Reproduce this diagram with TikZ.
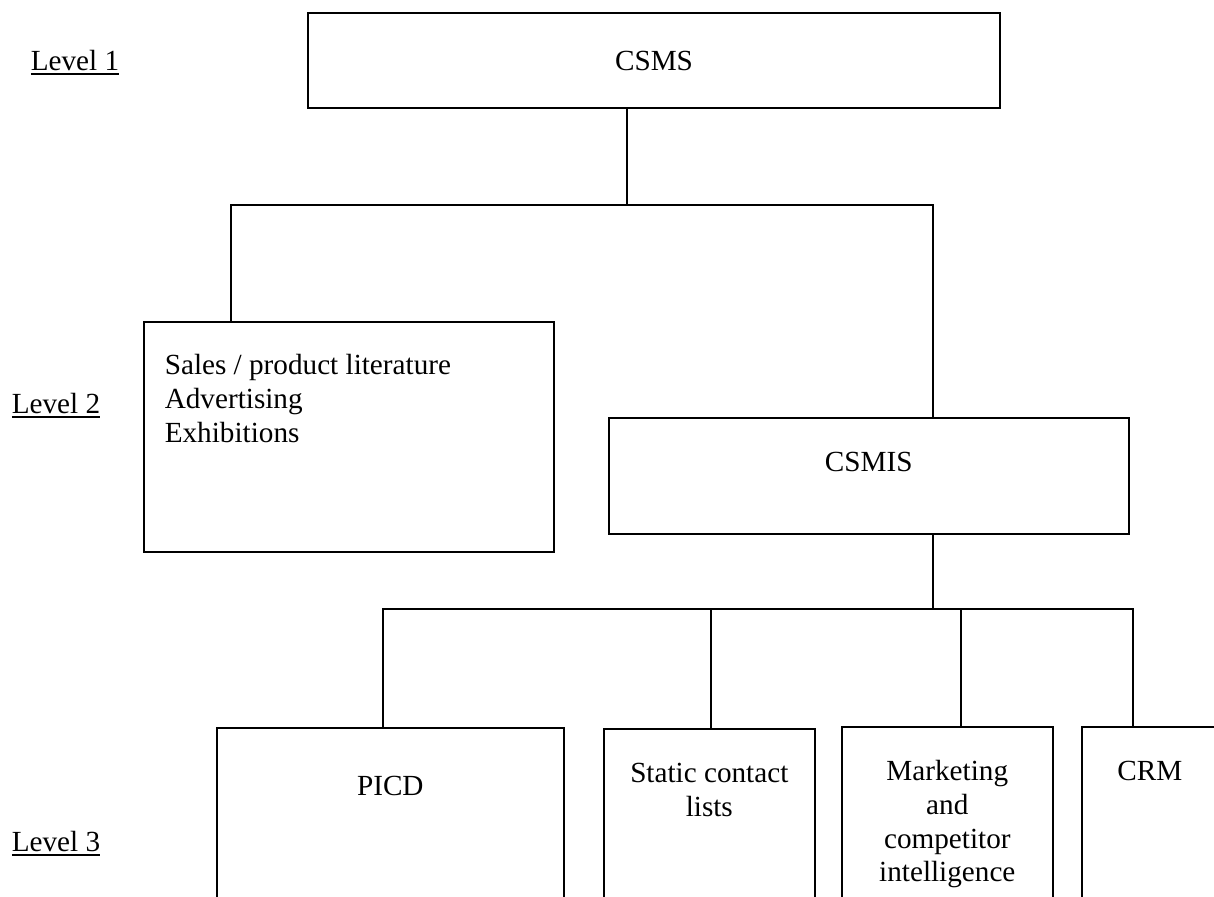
\documentclass[tikz,border=0pt]{standalone}
\usepackage{fontspec}
\setmainfont{Liberation Serif}
\newcommand{\lvlul}[1]{\setbox0=\hbox{#1}\rlap{\rule[-4.5pt]{\wd0}{2pt}}\box0}
\usetikzlibrary{positioning}

\begin{document}
\begin{tikzpicture}[x=1pt, y=-1pt, line width=1.6pt,
		font=\fontsize{29.2}{33.7}\selectfont,
		box/.style={draw, inner sep=0pt, anchor=north west}]
		\useasboundingbox (0, 0) rectangle (1214, 896);
		\clip (0, 0) rectangle (1214, 896);
		% levels
		\node[anchor=base west, inner sep=0pt] (lvl1) at (30, 71) {\lvlul{Level 1}};
		\node[anchor=base west, inner sep=0pt] (lvl2) at (11, 413) {\lvlul{Level 2}};
		\node[anchor=base west, inner sep=0pt] (lvl3) at (11, 851) {\lvlul{Level 3}};
		% boxes
		\node[draw, inner sep=0pt, minimum width=692pt, minimum height=95pt] (csms) at (654, 60.5) {CSMS};
		\node[box] (sales) at (143, 321) {\parbox[t][230pt][t]{410pt}{\vspace*{29.4pt}\raggedright\leftskip=21pt
				Sales / product literature\strut\\Advertising\strut\\Exhibitions\strut}};
		\node[box] (csmis) at (608, 417) {\parbox[t][116pt][t]{520pt}{\vspace*{30.4pt}\centering CSMIS\strut}};
		\node[box] (picd) at (216, 727) {\parbox[t][193pt][t]{347pt}{\vspace*{44.4pt}\centering PICD\strut}};
		\node[box] (static) at (603, 728) {\parbox[t][192pt][t]{211pt}{\vspace*{30.4pt}\centering
				Static contact\strut\\lists\strut}};
		\node[box] (mkt) at (841, 726) {\parbox[t][194pt][t]{211pt}{\vspace*{30.4pt}\centering
				Marketing\strut\\and\strut\\competitor\strut\\intelligence\strut}};
		\node[box] (crm) at (1081, 726) {\parbox[t][194pt][t]{136pt}{\vspace*{30.4pt}\centering CRM\strut}};
		% level 1 -> level 2
		\coordinate (trunk) at (627, 205);
		\coordinate (busL) at (231, 205);
		\coordinate (busR) at (933, 205);
		\draw (csms.south -| trunk) -- (trunk);
		\draw (sales.north -| busL) -- (busL) -- (busR) -- (csmis.north -| busR);
		% level 2 -> level 3
		\coordinate (sub) at (933, 609);
		\coordinate (subL) at (383, 609);
		\coordinate (subA) at (711, 609);
		\coordinate (subB) at (961, 609);
		\coordinate (subR) at (1133, 609);
		\draw (csmis.south -| sub) -- (sub);
		\draw (picd.north -| subL) -- (subL) -- (subR) -- (crm.north -| subR);
		\draw (subA) -- (static.north -| subA);
		\draw (subB) -- (mkt.north -| subB);
	\end{tikzpicture}
\end{document}
